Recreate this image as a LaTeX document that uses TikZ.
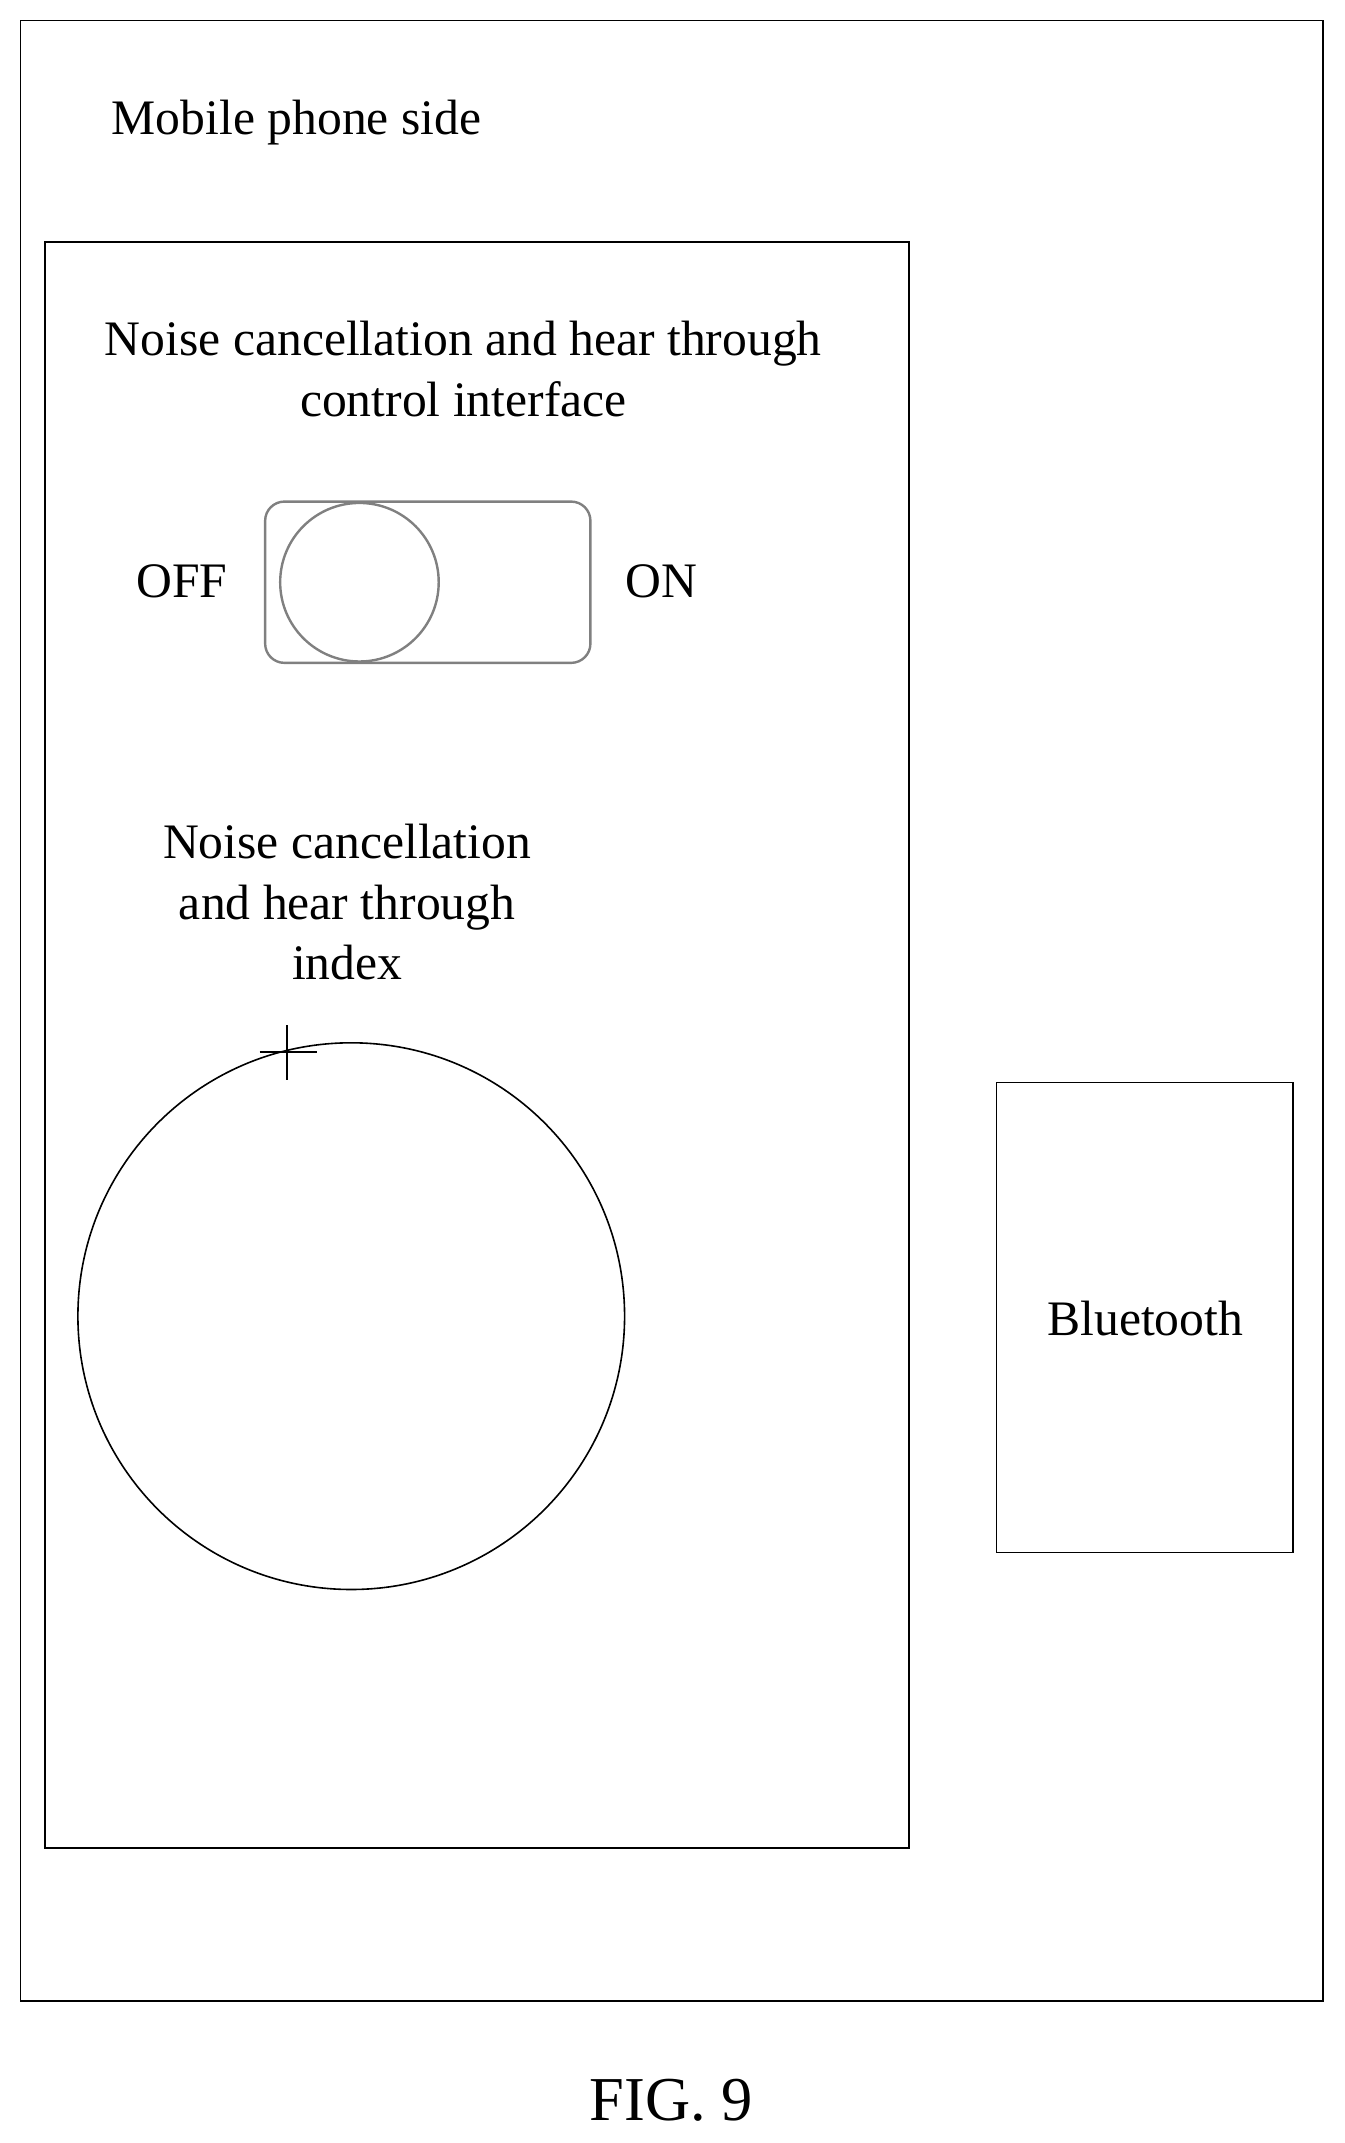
\documentclass[tikz,border=0pt]{standalone}
\usepackage{fontspec}
\setmainfont{Liberation Serif}
\usepackage{tikz}
\tikzset{box/.style={draw,line width=1pt}}
\tikzset{label/.style={font=\fontsize{31}{37.5}\selectfont,align=center}}
\tikzset{toggle/.style={draw=gray,line width=1.5pt}}

\begin{document}
\begin{tikzpicture}[x=0.03cm,y=-0.03cm]
    \useasboundingbox (0,0) rectangle (984,1568);
    \draw[box] (15,15) rectangle (968,1464);
    \node[label] (phone) at (217,90) {Mobile phone side};
    \draw[box] (33,177) rectangle (665,1352);
    \node[label] (title) at (339,270) {Noise cancellation and hear through\\control interface};
    \draw[toggle,rounded corners=12] (194,367) rectangle (432,485);
    \draw[toggle] (263,426) circle (58);
    \node[label] (off) at (133,425) {OFF};
    \node[label] (on) at (484,425) {ON};
    \node[label] (index) at (254,660) {Noise cancellation\\and hear through\\index};
    \draw[box] (257,963) circle (200);
    \draw[line width=1.2pt] (190,770) -- (232,770);
    \draw[line width=1.2pt] (210,750) -- (210,790);
    \draw[box] (729,792) rectangle (946,1136);
    \node[label] (bt) at (838,965) {Bluetooth};
    \node[label,font=\fontsize{39}{45}\selectfont] (fig) at (491,1537) {FIG. 9};
\end{tikzpicture}
\end{document}
